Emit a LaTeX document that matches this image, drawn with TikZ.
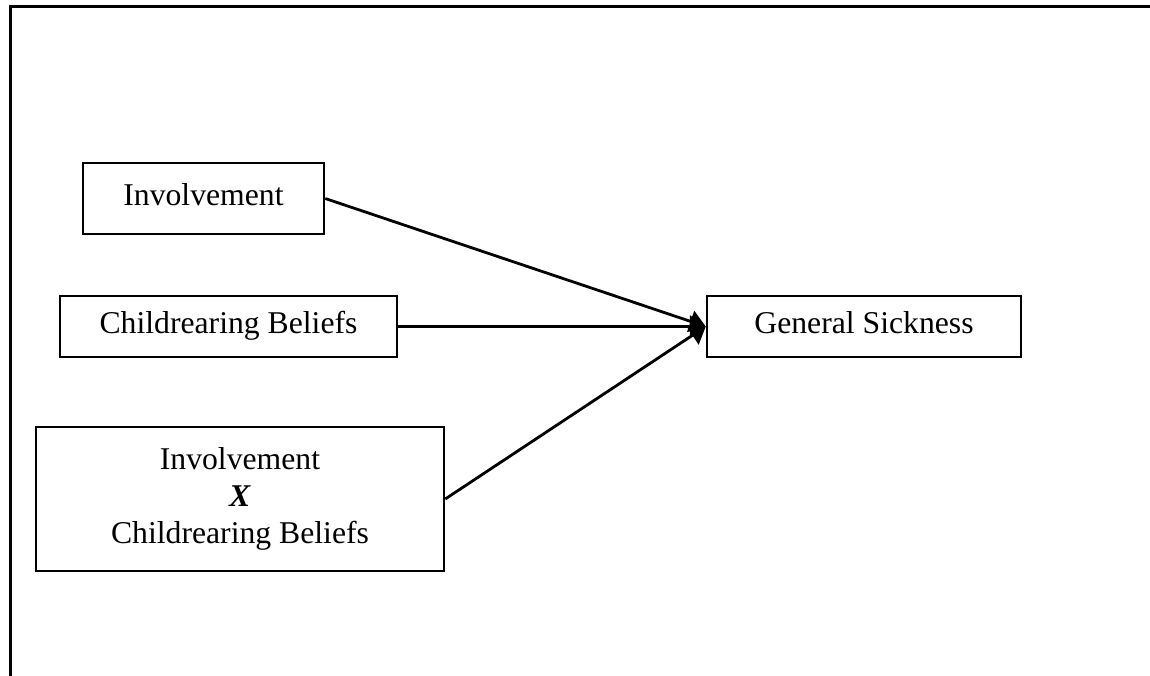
\documentclass[tikz,border=0pt]{standalone}
\usepackage{fontspec}
\setmainfont{Liberation Serif}
\usetikzlibrary{arrows.meta}
\begin{document}
\begin{tikzpicture}[x=1pt,y=-1pt,
  box/.style={draw,line width=2.5pt,rectangle,inner sep=0pt,
    font=\fontsize{31.7}{37}\selectfont,align=center},
  single/.style={text height=22pt,text depth=8pt},
  conn/.style={line width=2.8pt,-{Triangle[length=16pt,width=22pt]}},
  frameline/.style={line width=2.8pt}]
\useasboundingbox (0,0) rectangle (1150,676);
\coordinate (fr) at (1150,6.5);
\coordinate (fc) at (10.5,6.5);
\coordinate (fb) at (10.5,676);
\draw[frameline] (fr) -- (fc) -- (fb);
\node[box,single,minimum width=241pt,minimum height=71pt] (inv) at (203.5,198.5) {Involvement};
\node[box,single,minimum width=337pt,minimum height=61pt] (cb) at (228.5,326.5) {Childrearing Beliefs};
\node[box,single,minimum width=314pt,minimum height=61pt] (gs) at (864,326.5) {General Sickness};
\node[box,minimum width=408pt,minimum height=144pt] (ix) at (240,499) {Involvement\\\textbf{\textit{X}}\\Childrearing Beliefs};
\draw[conn] (inv.east) -- (gs.west);
\draw[conn] (cb.east) -- (gs.west);
\draw[conn] (ix.east) -- (gs.west);
\end{tikzpicture}
\end{document}
